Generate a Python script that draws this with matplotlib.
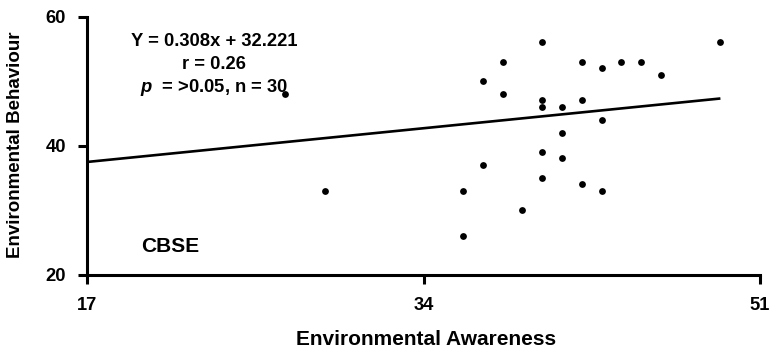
import matplotlib
matplotlib.use("Agg")
import matplotlib.pyplot as plt
from matplotlib.transforms import Bbox

plt.rcParams['font.family'] = ['Liberation Sans', 'DejaVu Sans']
plt.rcParams['mathtext.fontset'] = 'custom'
plt.rcParams['mathtext.it'] = 'Liberation Sans:bold:italic'
plt.rcParams['mathtext.rm'] = 'Liberation Sans:bold'

# Data
awareness = [40, 49, 38, 42, 44, 45, 43, 46, 37, 38, 40, 42, 40, 41, 43,
             41, 40, 37, 41, 40, 42, 36, 43, 39, 36, 29, 27]
behaviour = [56, 56, 53, 53, 53, 53, 52, 51, 50, 48, 47, 47, 46, 46, 44,
             42, 39, 37, 38, 35, 34, 33, 33, 30, 26, 33, 48]
line_x = [17, 49]
line_y = [37.46, 47.31]
x_ticks = [17, 34, 51]
y_ticks = [20, 40, 60]

W, H = 774, 351
fig = plt.figure(figsize=(W / 100, H / 100), dpi=100)
ax = fig.add_axes([87 / W, 1 - 274.5 / H, (760 - 87) / W, (274.5 - 16.7) / H])

ax.plot(line_x, line_y, color='black', lw=1.9, solid_capstyle='butt')
ax.scatter(awareness, behaviour, s=24, color='black', zorder=3, linewidths=0)

ax.set_xlim(17, 51)
ax.set_ylim(20, 60)
ax.set_xticks(x_ticks)
ax.set_yticks(y_ticks)
for s in ['top', 'right']:
    ax.spines[s].set_visible(False)
for s in ['left', 'bottom']:
    ax.spines[s].set_linewidth(2.2)
ax.tick_params(width=2.2, length=6.5, direction='out', labelsize=13.2)
ax.tick_params(axis='x', pad=9.5)
ax.tick_params(axis='y', pad=8.5)
for lab in ax.get_xticklabels() + ax.get_yticklabels():
    lab.set_fontweight('bold')

fig.text(426 / W, 1 - 345 / H, 'Environmental Awareness',
         ha='center', va='baseline', fontsize=15, fontweight='bold')
yl = fig.text(15.5 / W, 1 - 258 / H, 'Environmental Behaviour', rotation=90,
              ha='center', va='bottom', fontsize=13.5, fontweight='bold')
yl.set_clip_box(Bbox.from_extents(0, 0, W, H - 31))
yl.set_clip_on(True)

fig.text(214 / W, 1 - 46 / H, 'Y = 0.308x + 32.221', ha='center', va='baseline',
         fontsize=13.2, fontweight='bold')
fig.text(214 / W, 1 - 69 / H, 'r = 0.26', ha='center', va='baseline',
         fontsize=13.2, fontweight='bold')
fig.text(214 / W, 1 - 92 / H, r'$\it{p}$  = >0.05, n = 30', ha='center', va='baseline',
         fontsize=13.2, fontweight='bold')
fig.text(141.5 / W, 1 - 251.7 / H, 'CBSE', ha='left', va='baseline',
         fontsize=15, fontweight='bold')

fig.savefig('out.png', dpi=100)
